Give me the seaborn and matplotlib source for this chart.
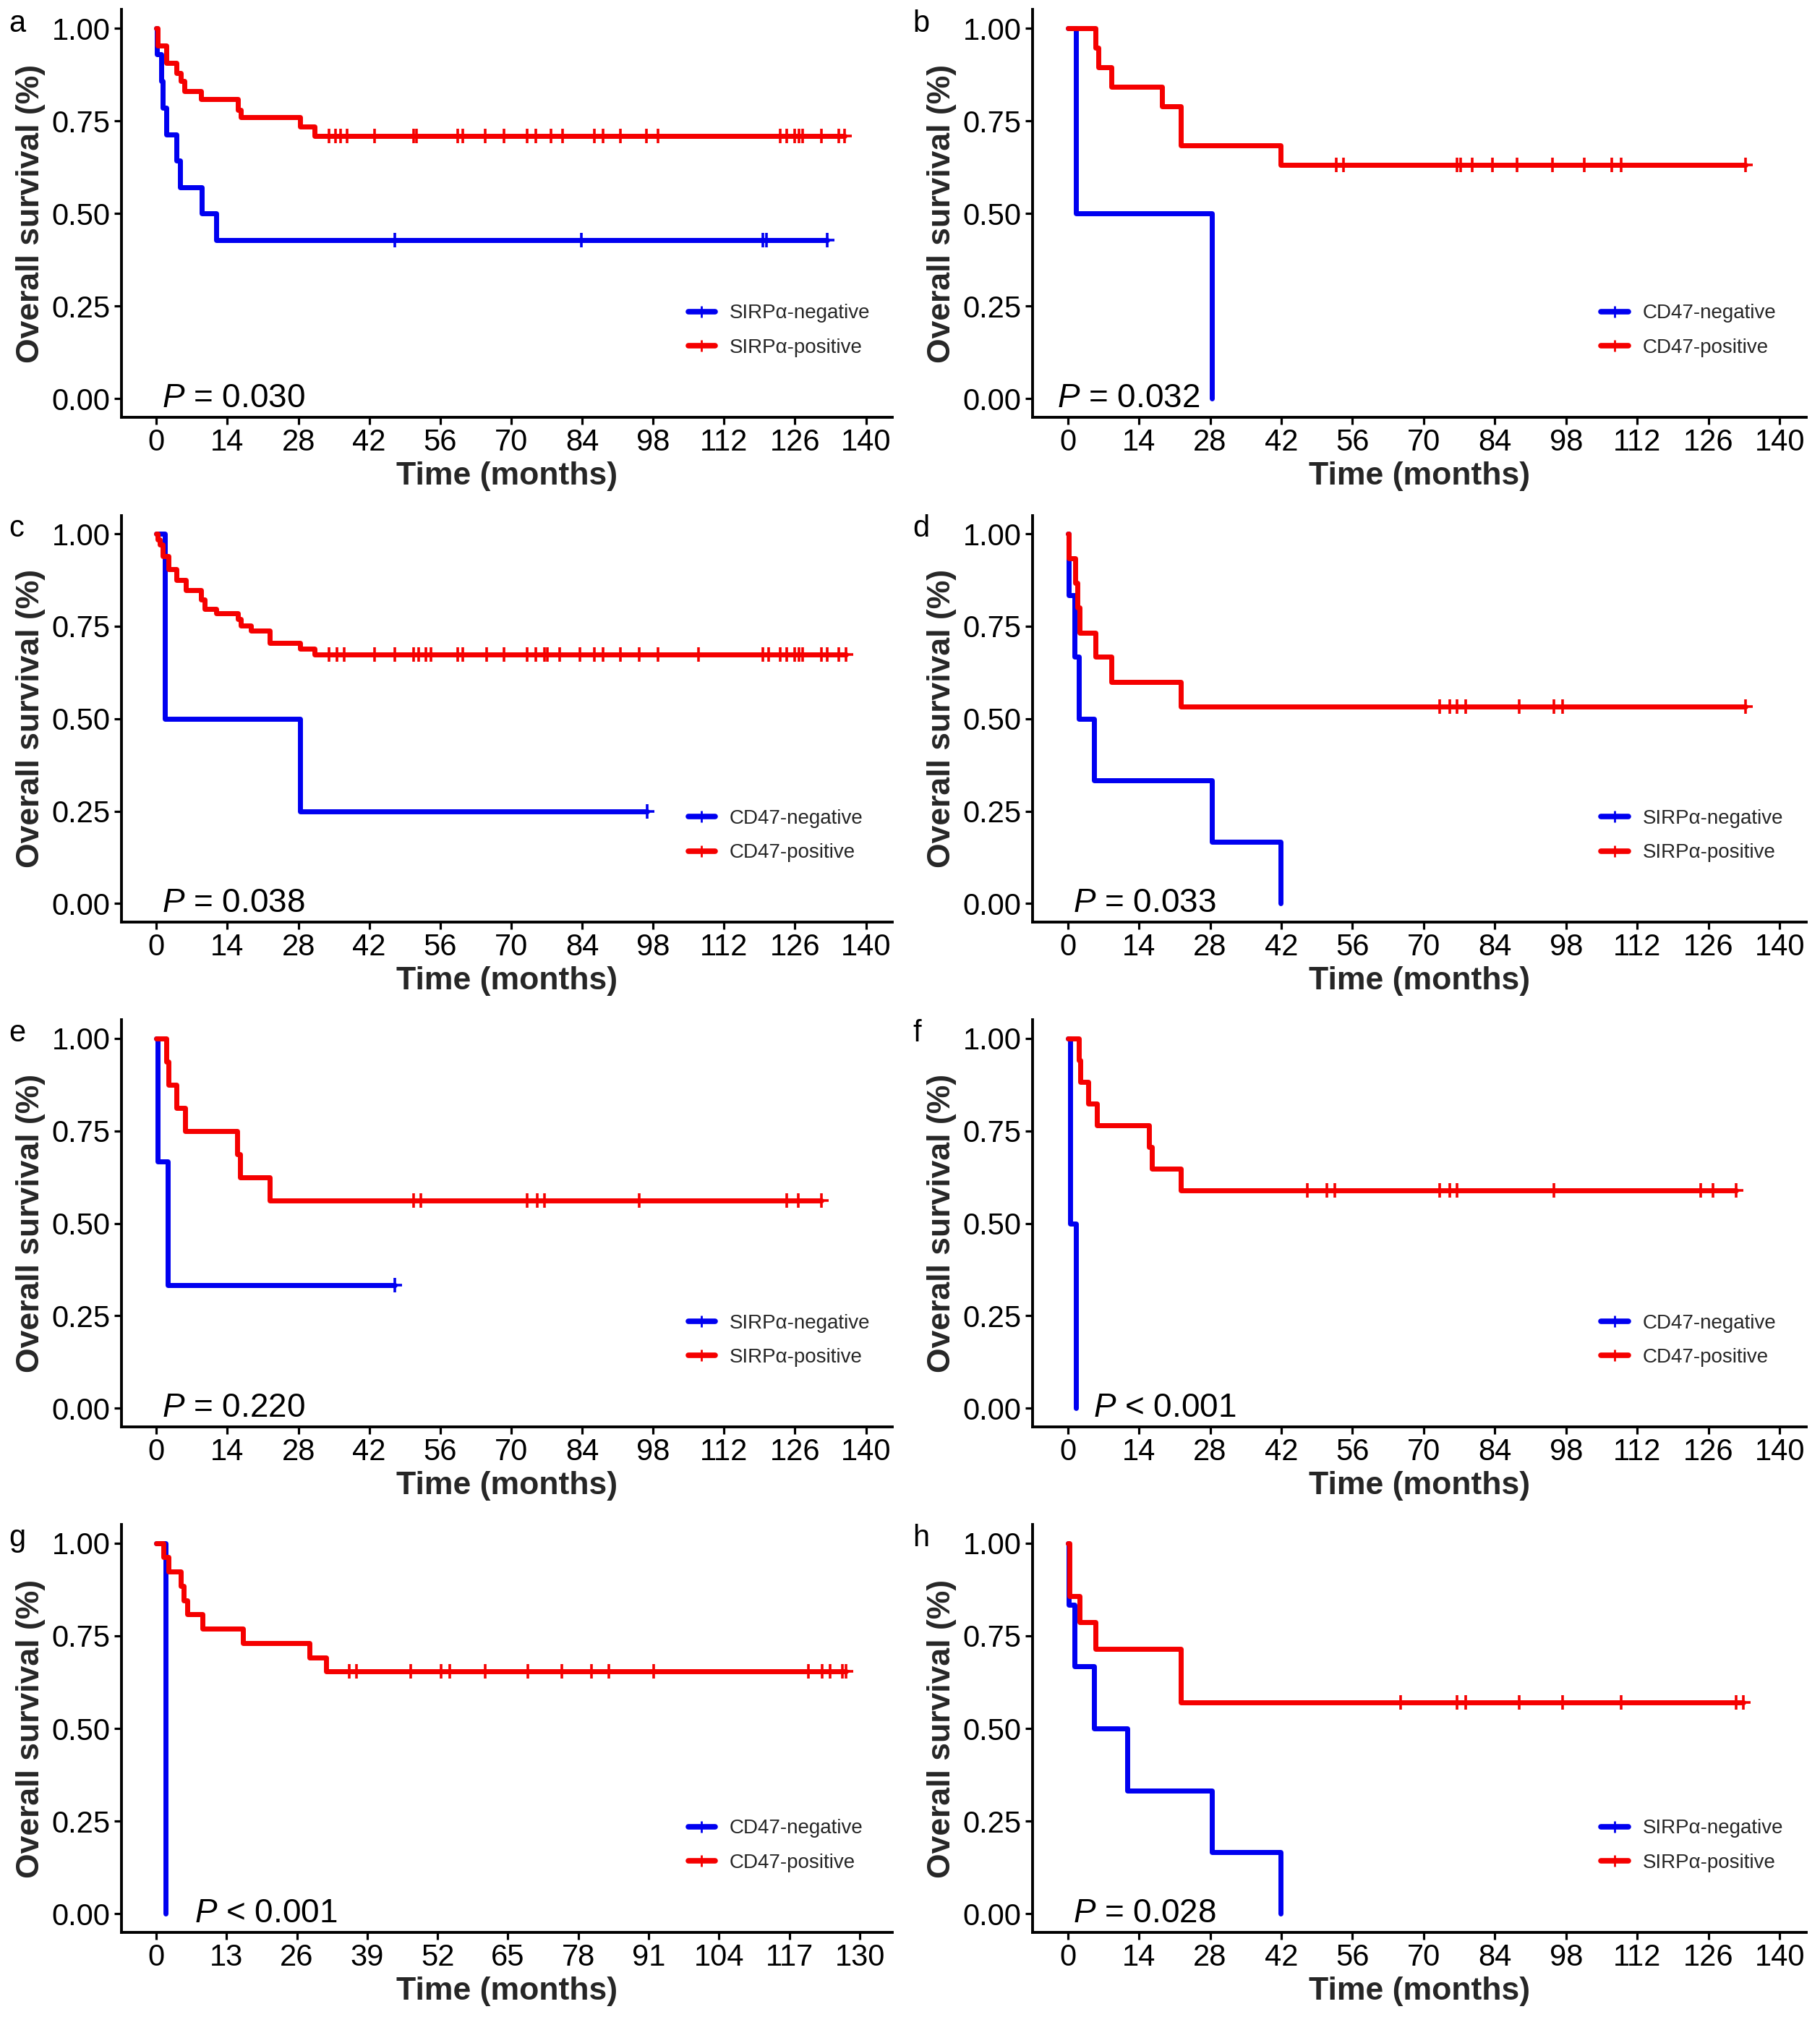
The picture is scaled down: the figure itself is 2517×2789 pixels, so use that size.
import numpy as np
import pandas as pd
import matplotlib
matplotlib.use("Agg")
import matplotlib.pyplot as plt
from matplotlib.lines import Line2D
import seaborn as sns

# ---------------- data ----------------
# panel a : SIRPα
A_NEG_T = [0, 0.1, 0.9, 1.2, 2.0, 4.0, 4.6, 8.9, 11.8]
A_NEG_S = [1.0, 0.929, 0.857, 0.786, 0.714, 0.643, 0.571, 0.5, 0.429]
A_NEG_C = [47.1, 83.8, 119.7, 120.4, 132.3]
A_POS_T = [0, 0.3, 2.0, 4.0, 4.8, 5.5, 8.8, 16.1, 16.6, 28.4, 31.2]
A_POS_S = [1.0, 0.954, 0.906, 0.879, 0.857, 0.831, 0.809, 0.779, 0.761, 0.735, 0.709]
A_POS_C = [34.1, 35.3, 36.4, 37.6, 43.1, 50.8, 51.3, 59.4, 60.5, 64.9, 68.6, 73.2,
           74.9, 77.8, 80.1, 86.4, 88.1, 91.5, 96.7, 99.0, 123.1, 124.3, 126.0,
           126.8, 127.5, 131.2, 134.6, 135.8]
# panel b : CD47
B_NEG_T = [0, 1.7, 28.4]
B_NEG_S = [1.0, 0.5, 0.0]
B_NEG_C = []
B_POS_T = [0, 5.4, 6.0, 8.6, 18.6, 22.3, 41.9]
B_POS_S = [1.0, 0.947, 0.895, 0.842, 0.789, 0.684, 0.632]
B_POS_C = [52.8, 54.2, 76.6, 77.2, 79.5, 83.5, 88.3, 95.3, 101.6, 107.0, 108.8, 133.2]
# panel c : CD47
C_NEG_T = [0, 1.7, 28.4]
C_NEG_S = [1.0, 0.5, 0.25]
C_NEG_C = [96.9]
C_POS_T = [0, 0.2, 0.6, 1.2, 2.4, 4.0, 5.8, 8.8, 9.5, 11.8, 16.1, 16.6, 18.6, 22.3, 28.3, 31.2]
C_POS_S = [1.0, 0.985, 0.97, 0.94, 0.905, 0.875, 0.848, 0.822, 0.796, 0.785, 0.77,
           0.752, 0.738, 0.705, 0.69, 0.674]
C_POS_C = [34.1, 35.6, 37.0, 43.1, 47.1, 50.8, 51.7, 53.1, 54.2, 59.4, 60.5, 65.1,
           68.6, 73.2, 74.9, 76.6, 77.2, 79.5, 83.5, 86.4, 88.1, 91.5, 95.3, 99.0,
           107.0, 119.7, 120.8, 123.1, 124.3, 126.0, 126.8, 127.5, 131.2, 132.3,
           134.6, 136.0]
# panel d : SIRPα
D_NEG_T = [0, 0.2, 1.4, 2.2, 5.2, 28.4, 41.9]
D_NEG_S = [1.0, 0.833, 0.667, 0.5, 0.333, 0.167, 0.0]
D_NEG_C = []
D_POS_T = [0, 0.2, 1.5, 1.9, 2.3, 5.4, 8.6, 22.3]
D_POS_S = [1.0, 0.933, 0.867, 0.8, 0.733, 0.667, 0.6, 0.533]
D_POS_C = [73.2, 75.1, 76.6, 78.3, 88.7, 95.6, 97.3, 133.2]
# panel e : SIRPα
E_NEG_T = [0, 0.2, 2.3]
E_NEG_S = [1.0, 0.667, 0.333]
E_NEG_C = [47.1]
E_POS_T = [0, 2.0, 2.4, 3.9, 5.7, 15.9, 16.5, 22.3]
E_POS_S = [1.0, 0.9375, 0.875, 0.8125, 0.75, 0.6875, 0.625, 0.5625]
E_POS_C = [50.8, 52.1, 73.2, 75.1, 76.6, 95.2, 124.3, 126.6, 131.2]
# panel f : CD47
F_NEG_T = [0, 0.5, 1.7]
F_NEG_S = [1.0, 0.5, 0.0]
F_NEG_C = []
F_POS_T = [0, 2.2, 2.5, 4.0, 5.7, 16.0, 16.5, 22.3]
F_POS_S = [1.0, 0.941, 0.882, 0.824, 0.765, 0.706, 0.647, 0.588]
F_POS_C = [47.1, 51.0, 52.5, 73.2, 75.1, 76.6, 95.6, 124.5, 126.8, 131.4]
# panel g : CD47
G_NEG_T = [0, 1.8]
G_NEG_S = [1.0, 0.0]
G_NEG_C = []
G_POS_T = [0, 1.3, 2.3, 4.5, 5.1, 5.8, 8.5, 16.0, 28.3, 31.4]
G_POS_S = [1.0, 0.962, 0.923, 0.885, 0.846, 0.808, 0.769, 0.731, 0.692, 0.654]
G_POS_C = [35.7, 37.0, 47.1, 52.7, 54.3, 60.8, 68.7, 74.9, 80.4, 83.6, 91.9,
           120.5, 123.1, 124.5, 126.8, 127.4]
# panel h : SIRPα
H_NEG_T = [0, 0.2, 1.4, 5.2, 11.7, 28.4, 41.9]
H_NEG_S = [1.0, 0.833, 0.667, 0.5, 0.333, 0.167, 0.0]
H_NEG_C = []
H_POS_T = [0, 0.3, 2.3, 5.4, 22.3]
H_POS_S = [1.0, 0.857, 0.786, 0.714, 0.571]
H_POS_C = [65.5, 76.6, 78.3, 88.7, 97.3, 108.8, 131.4, 132.9]

PANEL_LETTERS = ["a", "b", "c", "d", "e", "f", "g", "h"]
MARKERS = ["SIRPα", "CD47", "CD47", "SIRPα", "SIRPα", "CD47", "CD47", "SIRPα"]
P_TEXTS = ["= 0.030", "= 0.032", "= 0.038", "= 0.033", "= 0.220", "< 0.001", "< 0.001", "= 0.028"]
P_X = [1.1, -2.1, 1.1, 1.1, 1.1, 5.0, 7.1, 1.1]
X_TICKS_STD = list(range(0, 141, 14))
X_TICKS_G = list(range(0, 131, 13))
Y_TICKS = [0.0, 0.25, 0.5, 0.75, 1.0]

CURVES = [
    (A_NEG_T, A_NEG_S, A_NEG_C, A_POS_T, A_POS_S, A_POS_C),
    (B_NEG_T, B_NEG_S, B_NEG_C, B_POS_T, B_POS_S, B_POS_C),
    (C_NEG_T, C_NEG_S, C_NEG_C, C_POS_T, C_POS_S, C_POS_C),
    (D_NEG_T, D_NEG_S, D_NEG_C, D_POS_T, D_POS_S, D_POS_C),
    (E_NEG_T, E_NEG_S, E_NEG_C, E_POS_T, E_POS_S, E_POS_C),
    (F_NEG_T, F_NEG_S, F_NEG_C, F_POS_T, F_POS_S, F_POS_C),
    (G_NEG_T, G_NEG_S, G_NEG_C, G_POS_T, G_POS_S, G_POS_C),
    (H_NEG_T, H_NEG_S, H_NEG_C, H_POS_T, H_POS_S, H_POS_C),
]

NEG_COLOR = "#0000F0"
POS_COLOR = "#F50000"

# ---------------- style ----------------
sns.set_theme(style="ticks")
plt.rcParams["font.family"] = ["Liberation Sans", "DejaVu Sans"]
plt.rcParams["mathtext.fontset"] = "custom"
plt.rcParams["mathtext.it"] = "Liberation Sans:italic"
plt.rcParams["mathtext.rm"] = "Liberation Sans"
plt.rcParams["axes.unicode_minus"] = False

W, H = 2517, 2789
fig = plt.figure(figsize=(W / 100, H / 100), dpi=100)
fig.patch.set_facecolor("white")

COL_X = [(168, 1234), (1428, 2498)]
ROW_Y = [(13.5, 577), (712.5, 1275), (1410, 1973), (2108, 2672)]


def surv_at(T, S, t):
    idx = int(np.searchsorted(np.asarray(T), t, side="right")) - 1
    return S[idx]


def draw_curve(ax, T, S, C, color):
    end = max(C) if len(C) else T[-1]
    xs = list(T) + [end]
    ys = list(S) + [S[-1]]
    df = pd.DataFrame({"time": xs, "surv": ys})
    sns.lineplot(data=df, x="time", y="surv", drawstyle="steps-post",
                 estimator=None, sort=False, color=color, lw=5.0, ax=ax,
                 legend=False)
    if len(C):
        cy = [surv_at(T, S, c) for c in C]
        sns.scatterplot(x=C, y=cy, marker="+", s=200, color=color,
                        linewidth=2.6, ax=ax, legend=False, zorder=3)


for i in range(8):
    r, c = divmod(i, 2)
    x0, x1 = COL_X[c]
    top, bot = ROW_Y[r]
    ax = fig.add_axes([x0 / W, 1 - bot / H, (x1 - x0) / W, (bot - top) / H])
    nT, nS, nC, pT, pS, pC = CURVES[i]
    draw_curve(ax, nT, nS, nC, NEG_COLOR)
    draw_curve(ax, pT, pS, pC, POS_COLOR)

    if i == 6:
        ax.set_xlim(-6.4, 136.0)
        ax.set_xticks(X_TICKS_G)
    else:
        ax.set_xlim(-6.9, 145.2)
        ax.set_xticks(X_TICKS_STD)
    ax.set_ylim(-0.05, 1.05)
    ax.set_yticks(Y_TICKS)
    ax.set_yticklabels([f"{v:.2f}" for v in Y_TICKS])

    for s in ["top", "right"]:
        ax.spines[s].set_visible(False)
    for s in ["left", "bottom"]:
        ax.spines[s].set_linewidth(2.8)
        ax.spines[s].set_color("black")
    ax.tick_params(axis="both", length=7, width=2.3, color="black",
                   labelsize=30, labelcolor="black", pad=4)
    ax.set_xlabel("Time (months)", fontsize=32, fontweight="bold", labelpad=4)
    ax.set_ylabel("Overall survival (%)", fontsize=32, fontweight="bold", labelpad=6)
    ax.set_facecolor("white")
    ax.grid(False)

    ax.text(P_X[i], -0.022, r"$\it{P}$ " + P_TEXTS[i], fontsize=33,
            ha="left", va="baseline", color="black")

    m = MARKERS[i]
    handles = [
        Line2D([], [], color=NEG_COLOR, lw=5.5, marker="+", ms=12, mew=2.0),
        Line2D([], [], color=POS_COLOR, lw=5.5, marker="+", ms=12, mew=2.0),
    ]
    ax.legend(handles, [f"{m}-negative", f"{m}-positive"], loc="center left",
              bbox_to_anchor=(0.735, 0.2125), frameon=False, fontsize=20,
              handlelength=1.35, handletextpad=0.7, labelspacing=0.78,
              borderpad=0, borderaxespad=0)

    lx = 12 if c == 0 else 1262
    fig.text(lx / W, 1 - (top + 30) / H, PANEL_LETTERS[i], fontsize=30,
             ha="left", va="baseline", color="black")

fig.savefig("out.png", dpi=100, facecolor="white")
